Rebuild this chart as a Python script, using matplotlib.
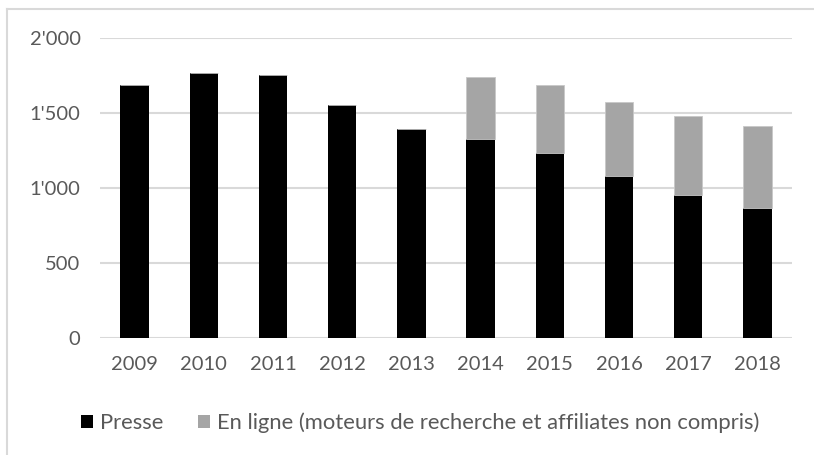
import numpy as np
import matplotlib.pyplot as plt
from matplotlib.ticker import FuncFormatter
from matplotlib.patches import Patch
from matplotlib.lines import Line2D

plt.rcParams['font.family'] = ['Lato', 'DejaVu Sans']

years = ["2009", "2010", "2011", "2012", "2013", "2014", "2015", "2016", "2017", "2018"]
presse = [1689, 1767, 1758, 1553, 1397, 1331, 1237, 1082, 953, 869]
en_ligne = [0, 0, 0, 0, 0, 409, 452, 495, 529, 544]

text_col = '#595959'
black = '#000000'
grey = '#a5a5a5'

fig = plt.figure(figsize=(8.14, 4.55), dpi=100)
ax = fig.add_axes([100 / 814, 116.7 / 455, 692 / 814, 300 / 455])

x = np.arange(len(years))
ax.bar(x, presse, width=0.41, color=black, zorder=3)
ax.bar(x, en_ligne, width=0.41, bottom=presse, color=grey, edgecolor='#c8c8c8',
       linewidth=0.6, zorder=3)

ax.set_xlim(-0.5, len(years) - 0.5)
ax.set_ylim(0, 2000)
ax.set_yticks([0, 500, 1000, 1500, 2000])
ax.yaxis.set_major_formatter(FuncFormatter(lambda v, p: "{:,.0f}".format(v).replace(",", "'")))
ax.set_xticks(x)
ax.set_xticklabels(years)

ax.grid(axis='y', color='#d9d9d9', linewidth=1.5, zorder=0)
for s in ax.spines.values():
    s.set_visible(False)
ax.tick_params(axis='both', length=0, labelsize=14.5, colors=text_col)
ax.tick_params(axis='y', pad=14)
ax.tick_params(axis='x', pad=13)

handles = [Patch(facecolor=black, label='Presse'),
           Patch(facecolor=grey, label='En ligne (moteurs de recherche et affiliates non compris)')]
leg = fig.legend(handles=handles, loc='center', bbox_to_anchor=(420 / 814, 1 - 423 / 455),
                 ncol=2, frameon=False, fontsize=15.8, handlelength=0.55, handleheight=0.55,
                 handletextpad=0.3, columnspacing=1.6)
for t in leg.get_texts():
    t.set_color(text_col)

# chart border (only top and left visible in the crop)
fig.add_artist(Line2D([7 / 814, 1], [1 - 9 / 455, 1 - 9 / 455], color='#d9d9d9', linewidth=1.5))
fig.add_artist(Line2D([7 / 814, 7 / 814], [0, 1 - 9 / 455], color='#d9d9d9', linewidth=1.5))

fig.savefig('out.png', dpi=100)
